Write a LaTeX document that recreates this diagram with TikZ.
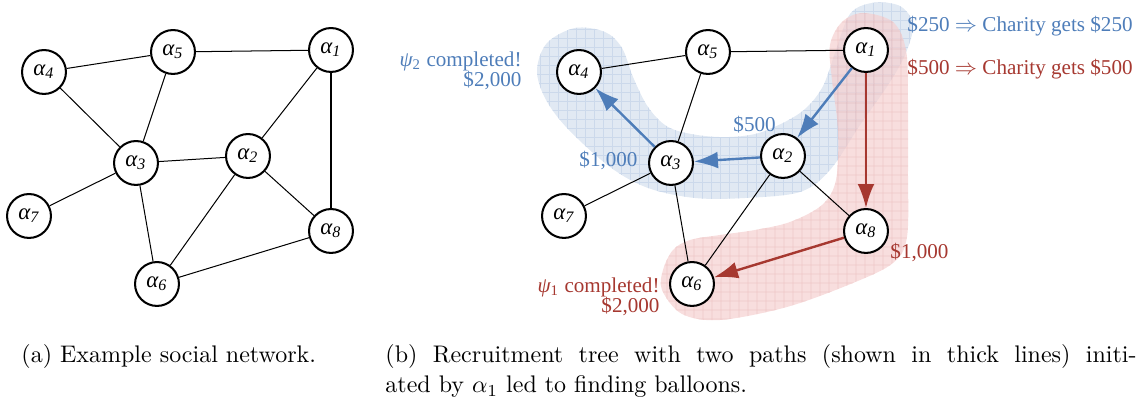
\documentclass[tikz,border=0pt]{standalone}
\usepackage{fontspec}
\newfontfamily\tnr{Liberation Serif}
\usetikzlibrary{arrows.meta}
\definecolor{bblue}{RGB}{78,125,185}
\definecolor{rred}{RGB}{166,56,48}
\definecolor{bfill}{RGB}{225,233,243}
\definecolor{bgrid}{RGB}{204,217,235}
\definecolor{rfill}{RGB}{245,208,208}
\definecolor{rgrid}{RGB}{231,176,176}
\tikzset{
  agent/.style={circle, draw=black, line width=0.85pt, fill=white, minimum size=18.3pt, inner sep=0pt,
    font=\tnr\itshape\fontsize{9.5}{11}\selectfont},
  thinedge/.style={draw=black, line width=0.42pt},
  barrow/.style={draw=bblue, line width=1pt, -{Latex[length=10pt,width=7pt]}},
  rarrow/.style={draw=rred, line width=1pt, -{Latex[length=10pt,width=7pt]}},
  lbl/.style={font=\tnr\fontsize{8.8}{10}\selectfont, inner sep=0pt},
  captext/.style={font=\normalfont\fontsize{10}{12.5}\selectfont, inner sep=0pt},
}
\begin{document}
\begin{tikzpicture}[x=0.4167pt, y=-0.4167pt]
\useasboundingbox (0,0) rectangle (1140,407);

% ---------- blobs (right) ----------
\begin{scope}
  \clip plot[smooth cycle, tension=0.55] coordinates {
    (537,70) (547,43) (575,28) (605,32) (622,48) (633,77) (648,107) (668,127)
    (697,135) (730,137) (762,132) (800,113) (822,88) (836,50) (850,14) (872,3)
    (900,6) (913,25) (905,55) (888,85) (860,125) (830,170) (800,192) (745,198)
    (695,198) (648,188) (610,167) (567,128) (545,98)};
  \fill[bfill] (520,0) rectangle (930,210);
  \foreach \gx in {522,531,...,930} \draw[bgrid, line width=0.3pt] (\gx,0) -- (\gx,210);
  \foreach \gy in {2,11,...,210} \draw[bgrid, line width=0.3pt] (520,\gy) -- (930,\gy);
\end{scope}
\begin{scope}[transparency group, opacity=0.7]
  \clip plot[smooth cycle, tension=0.55] coordinates {
    (863,13) (893,22) (906,50) (908,100) (908,170) (907,237) (893,263) (853,283)
    (787,307) (720,320) (682,314) (662,290) (663,270) (673,250) (690,240) (720,235)
    (755,230) (790,222) (822,205) (836,180) (838,130) (832,80) (830,45) (842,22)};
  \fill[rfill] (640,0) rectangle (930,330);
  \foreach \gx in {640,649,...,930} \draw[rgrid, line width=0.3pt] (\gx,0) -- (\gx,330);
  \foreach \gy in {4,13,...,330} \draw[rgrid, line width=0.3pt] (640,\gy) -- (930,\gy);
\end{scope}

% ---------- left graph ----------
\node[agent] (l1) at (331,50) {α\textsubscript{1}};
\node[agent] (l2) at (248,156) {α\textsubscript{2}};
\node[agent] (l3) at (136,163) {α\textsubscript{3}};
\node[agent] (l4) at (44,72) {α\textsubscript{4}};
\node[agent] (l5) at (173,52) {α\textsubscript{5}};
\node[agent] (l6) at (157,284) {α\textsubscript{6}};
\node[agent] (l7) at (29,216) {α\textsubscript{7}};
\node[agent] (l8) at (331,231) {α\textsubscript{8}};
\draw[thinedge] (l4) -- (l5);
\draw[thinedge] (l5) -- (l1);
\draw[thinedge] (l4) -- (l3);
\draw[thinedge] (l5) -- (l3);
\draw[thinedge] (l1) -- (l2);
\draw[thinedge] (l1) -- (l8);
\draw[thinedge] (l3) -- (l2);
\draw[thinedge] (l3) -- (l7);
\draw[thinedge] (l3) -- (l6);
\draw[thinedge] (l2) -- (l6);
\draw[thinedge] (l2) -- (l8);
\draw[thinedge] (l8) -- (l6);

% ---------- right graph ----------
\node[agent] (r1) at (866,50) {α\textsubscript{1}};
\node[agent] (r2) at (783,156) {α\textsubscript{2}};
\node[agent] (r3) at (671,163) {α\textsubscript{3}};
\node[agent] (r4) at (579,72) {α\textsubscript{4}};
\node[agent] (r5) at (708,52) {α\textsubscript{5}};
\node[agent] (r6) at (692,284) {α\textsubscript{6}};
\node[agent] (r7) at (564,216) {α\textsubscript{7}};
\node[agent] (r8) at (866,231) {α\textsubscript{8}};
\draw[thinedge] (r4) -- (r5);
\draw[thinedge] (r5) -- (r1);
\draw[thinedge] (r5) -- (r3);
\draw[thinedge] (r3) -- (r7);
\draw[thinedge] (r3) -- (r6);
\draw[thinedge] (r2) -- (r6);
\draw[thinedge] (r2) -- (r8);
\draw[barrow] (r1) -- (r2);
\draw[barrow] (r2) -- (r3);
\draw[barrow] (r3) -- (r4);
\draw[rarrow] (r1) -- (r8);
\draw[rarrow] (r8) -- (r6);

% ---------- labels ----------
\node[lbl, text=bblue, anchor=base west] (c250) at (907,32) {\$250 $\Rightarrow$ Charity gets \$250};
\node[lbl, text=rred, anchor=base west] (c500) at (907,75) {\$500 $\Rightarrow$ Charity gets \$500};
\node[lbl, text=bblue, anchor=base east] (psi2) at (522,67) {{\itshape ψ}\textsubscript{2} completed!};
\node[lbl, text=bblue, anchor=base east] (psi2m) at (522,87) {\$2,000};
\node[lbl, text=bblue, anchor=base west] (m500) at (733,132) {\$500};
\node[lbl, text=bblue, anchor=base west] (m1000b) at (579,167) {\$1,000};
\node[lbl, text=rred, anchor=base west] (m1000r) at (890,259) {\$1,000};
\node[lbl, text=rred, anchor=base east] (psi1) at (660,293) {{\itshape ψ}\textsubscript{1} completed!};
\node[lbl, text=rred, anchor=base east] (psi1m) at (660,313) {\$2,000};

% ---------- captions ----------
\node[captext, anchor=base west] (capa) at (21,363) {(a) Example social network.};
\node[captext, anchor=base west] (capb1) at (385,363) {\makebox[313pt][s]{(b) Recruitment tree with two paths (shown in thick lines) initi-}};
\node[captext, anchor=base west] (capb2) at (385,393) {ated by $\alpha_1$ led to finding balloons.};
\end{tikzpicture}
\end{document}
